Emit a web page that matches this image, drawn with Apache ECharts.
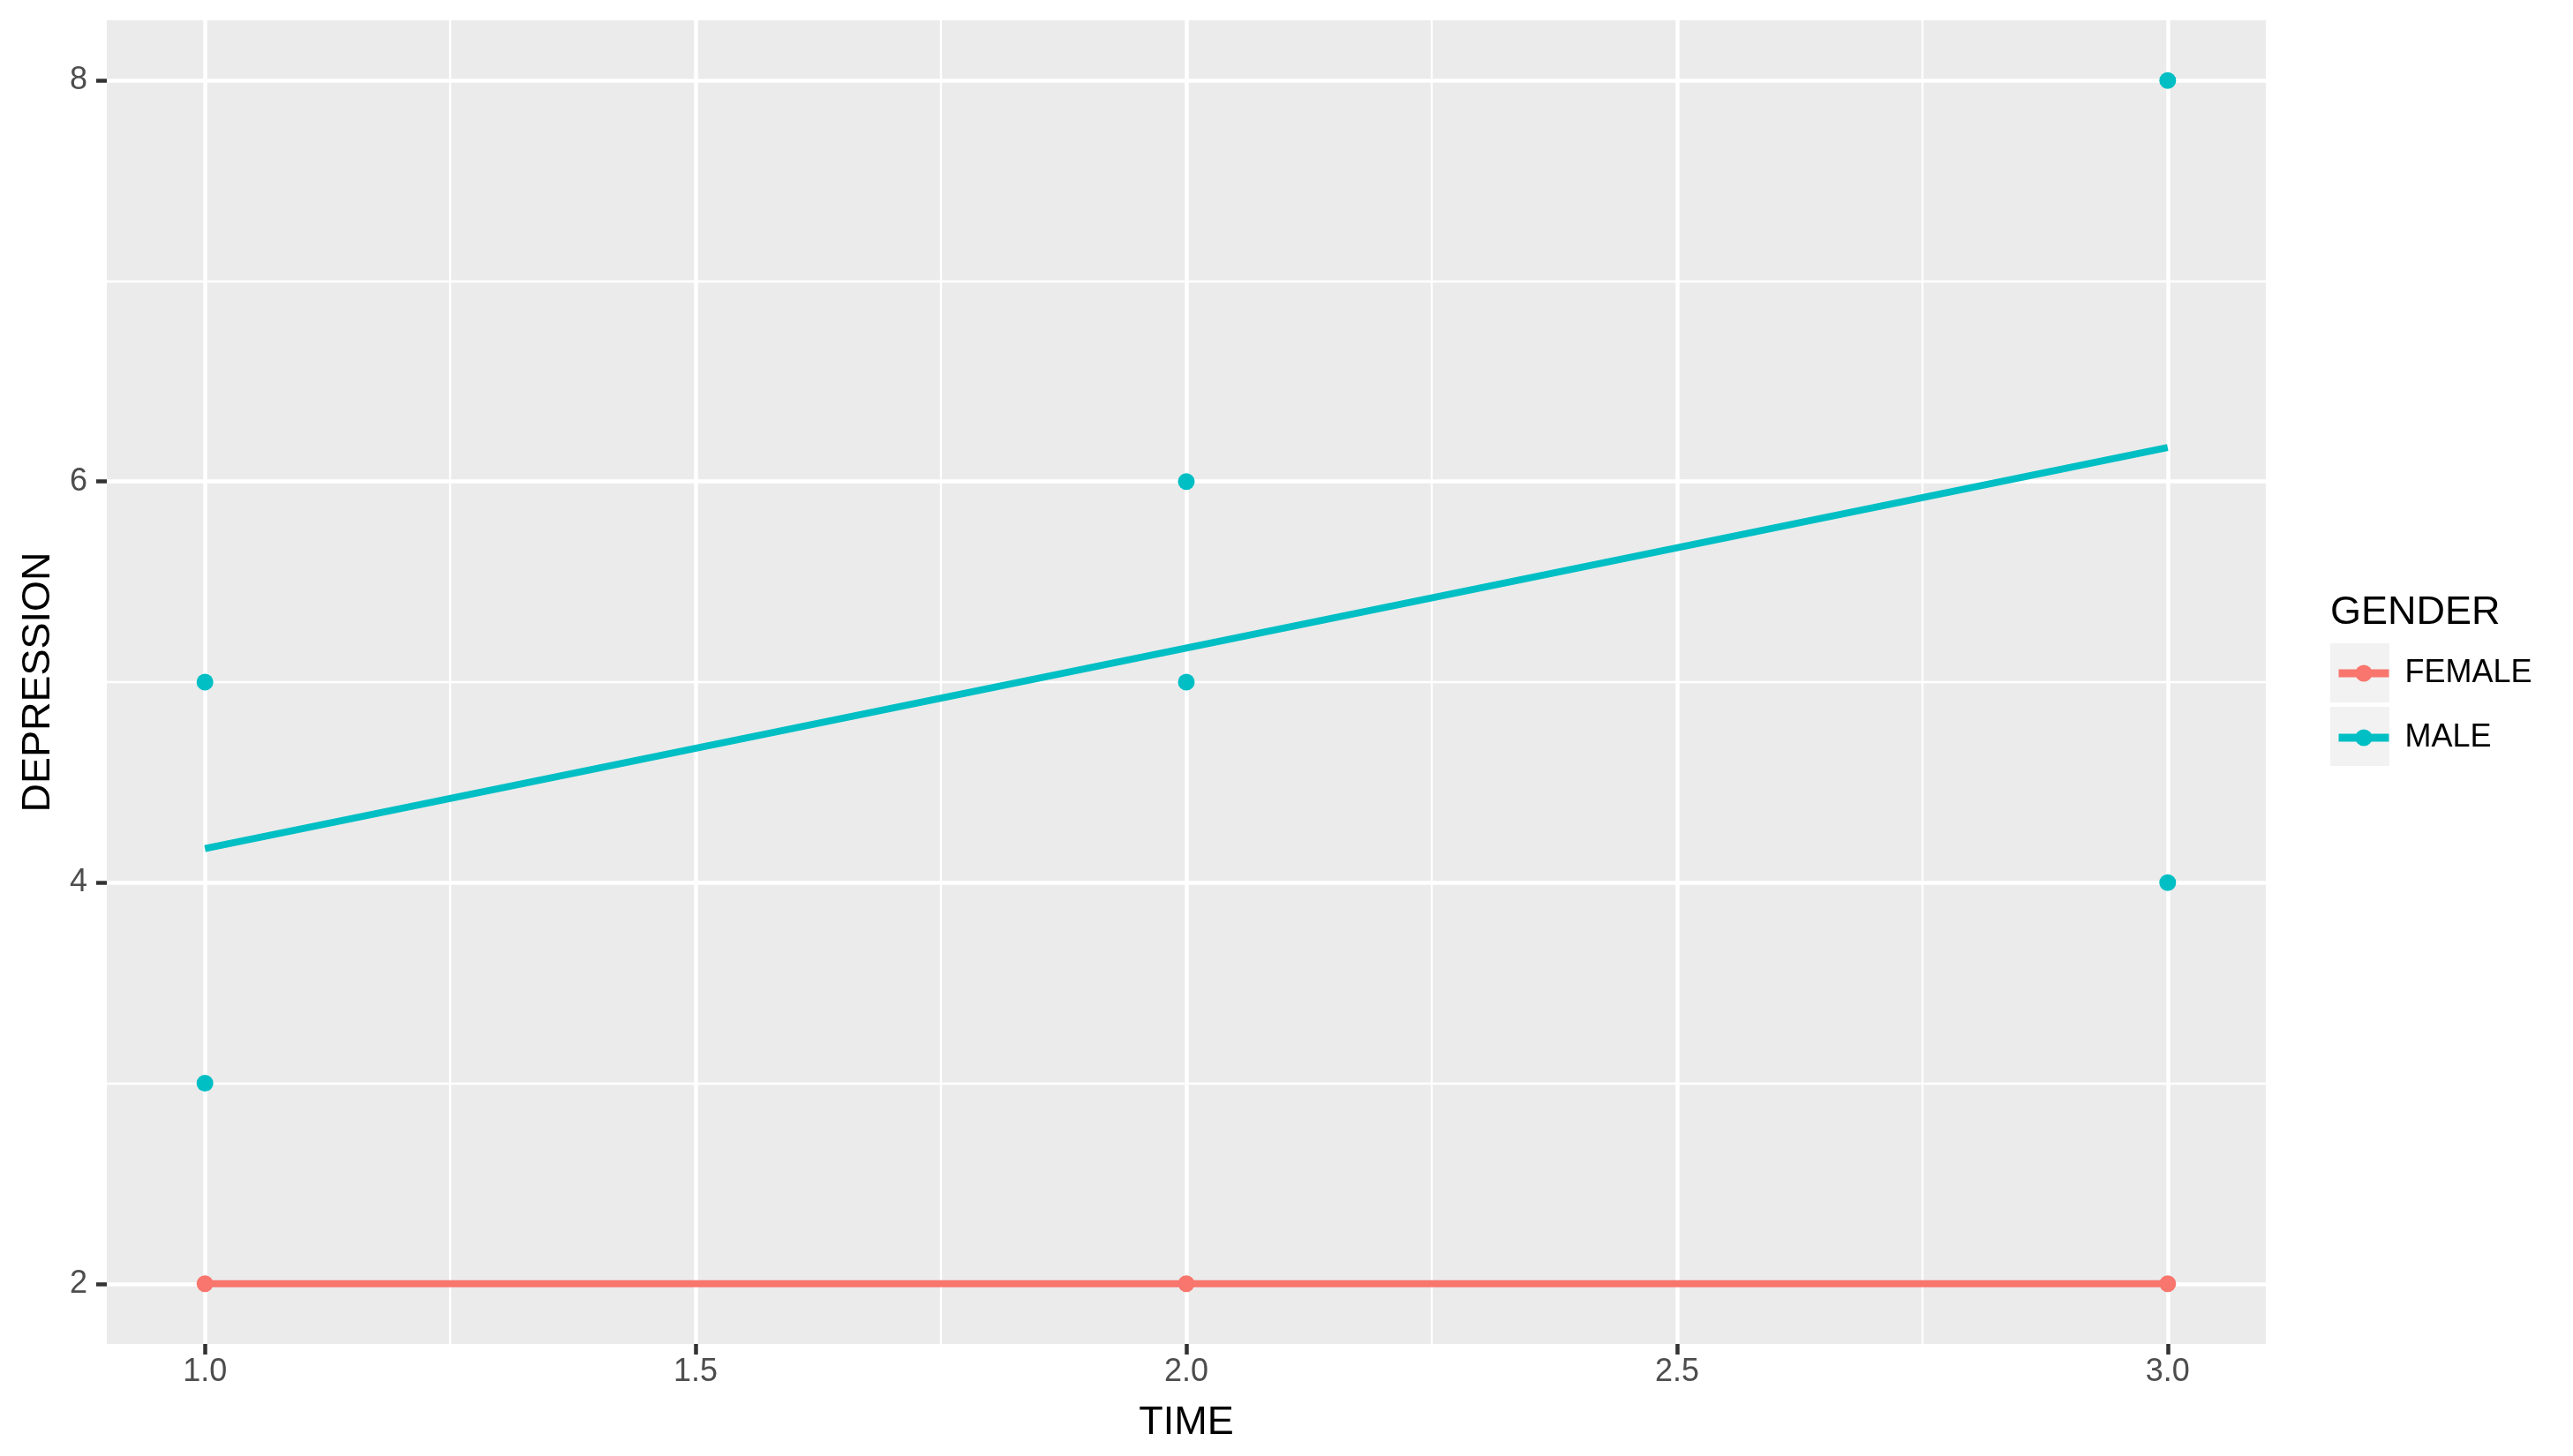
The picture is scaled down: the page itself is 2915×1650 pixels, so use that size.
<!DOCTYPE html>
<html>
<head>
<meta charset="utf-8">
<script src="https://cdn.jsdelivr.net/npm/echarts@6/dist/echarts.min.js"></script>
<style>
  html, body { margin: 0; padding: 0; background: #fff; }
  #main { width: 2915px; height: 1650px; }
</style>
</head>
<body>
<div id="main"></div>
<script>
// data
const timeValues = [1, 2, 3]
const femaleDepression = [2, 2, 2]
const maleDepressionA = [5, 6, 8]
const maleDepressionB = [3, 5, 4]
const maleFitTimes = [1, 3]
const maleFitValues = [4.17, 6.17]

// axis ticks / grid lines
const xTicks = [1.0, 1.5, 2.0, 2.5, 3.0]
const xMinor = [1.25, 1.75, 2.25, 2.75]
const yTicks = [2, 4, 6, 8]
const yMinor = [3, 5, 7]

const FEMALE_COLOR = '#F8766D'
const MALE_COLOR = '#00BFC4'
const FONT = "'Liberation Sans', Arial, sans-serif"

const chart = echarts.init(document.getElementById('main'))

const pairs = (xs, ys) => xs.map((x, i) => [x, ys[i]])

const gridLines = []
xTicks.forEach(v => gridLines.push({ xAxis: v, lineStyle: { width: 4.5 } }))
xMinor.forEach(v => gridLines.push({ xAxis: v, lineStyle: { width: 2.3 } }))
yTicks.forEach(v => gridLines.push({ yAxis: v, lineStyle: { width: 4.5 } }))
yMinor.forEach(v => gridLines.push({ yAxis: v, lineStyle: { width: 2.3 } }))

const malePoints = pairs(timeValues, maleDepressionA).concat(pairs(timeValues, maleDepressionB))

chart.setOption({
  animation: false,
  textStyle: { fontFamily: FONT },
  title: {
    text: 'GENDER',
    left: 2640,
    top: 672,
    padding: 0,
    textStyle: { fontFamily: FONT, fontSize: 45, fontWeight: 'normal', color: '#000' }
  },
  legend: {
    orient: 'vertical',
    left: 2645,
    top: 745,
    padding: 0,
    itemWidth: 57,
    itemHeight: 24,
    itemGap: 37,
    data: ['FEMALE', 'MALE'],
    lineStyle: { width: 9 },
    textStyle: { fontFamily: FONT, fontSize: 36, color: '#000', padding: [0, 0, 0, 13] }
  },
  graphic: [
    { type: 'rect', z: 0, shape: { x: 2640, y: 729, width: 67, height: 67 }, style: { fill: '#F2F2F2' } },
    { type: 'rect', z: 0, shape: { x: 2640, y: 801, width: 67, height: 67 }, style: { fill: '#F2F2F2' } }
  ],
  grid: {
    left: 121,
    right: 348,
    top: 23,
    bottom: 127,
    show: true,
    backgroundColor: '#EBEBEB',
    borderWidth: 0
  },
  xAxis: {
    type: 'value',
    min: 0.9,
    max: 3.1,
    name: 'TIME',
    nameLocation: 'middle',
    nameGap: 67,
    nameTextStyle: { fontFamily: FONT, fontSize: 45, color: '#000' },
    axisLine: { show: false },
    splitLine: { show: false },
    axisTick: { show: true, customValues: xTicks, length: 12, lineStyle: { color: '#333333', width: 4.5 } },
    axisLabel: {
      customValues: xTicks,
      margin: 14,
      fontFamily: FONT,
      fontSize: 36,
      color: '#4D4D4D',
      formatter: v => Number(v).toFixed(1)
    }
  },
  yAxis: {
    type: 'value',
    min: 1.7,
    max: 8.3,
    name: 'DEPRESSION',
    nameLocation: 'middle',
    nameGap: 55,
    nameTextStyle: { fontFamily: FONT, fontSize: 45, color: '#000' },
    axisLine: { show: false },
    splitLine: { show: false },
    axisTick: { show: true, customValues: yTicks, length: 12, lineStyle: { color: '#333333', width: 4.5 } },
    axisLabel: {
      customValues: yTicks,
      margin: 22,
      fontFamily: FONT,
      fontSize: 36,
      color: '#4D4D4D'
    }
  },
  series: [
    {
      name: 'grid',
      type: 'scatter',
      data: [],
      z: 1,
      silent: true,
      markLine: {
        z: 1,
        silent: true,
        symbol: ['none', 'none'],
        label: { show: false },
        lineStyle: { color: '#FFFFFF', type: 'solid' },
        emphasis: { disabled: true },
        data: gridLines
      }
    },
    {
      name: 'FEMALE',
      type: 'line',
      z: 3,
      data: pairs(timeValues, femaleDepression),
      symbol: 'circle',
      symbolSize: 19,
      lineStyle: { color: FEMALE_COLOR, width: 8 },
      itemStyle: { color: FEMALE_COLOR }
    },
    {
      name: 'MALE',
      type: 'line',
      z: 3,
      data: pairs(maleFitTimes, maleFitValues),
      symbol: 'circle',
      showSymbol: false,
      lineStyle: { color: MALE_COLOR, width: 8 },
      itemStyle: { color: MALE_COLOR }
    },
    {
      name: 'MALE',
      type: 'scatter',
      z: 3,
      data: malePoints,
      symbol: 'circle',
      symbolSize: 19,
      itemStyle: { color: MALE_COLOR, opacity: 1 }
    }
  ]
})
</script>
</body>
</html>
